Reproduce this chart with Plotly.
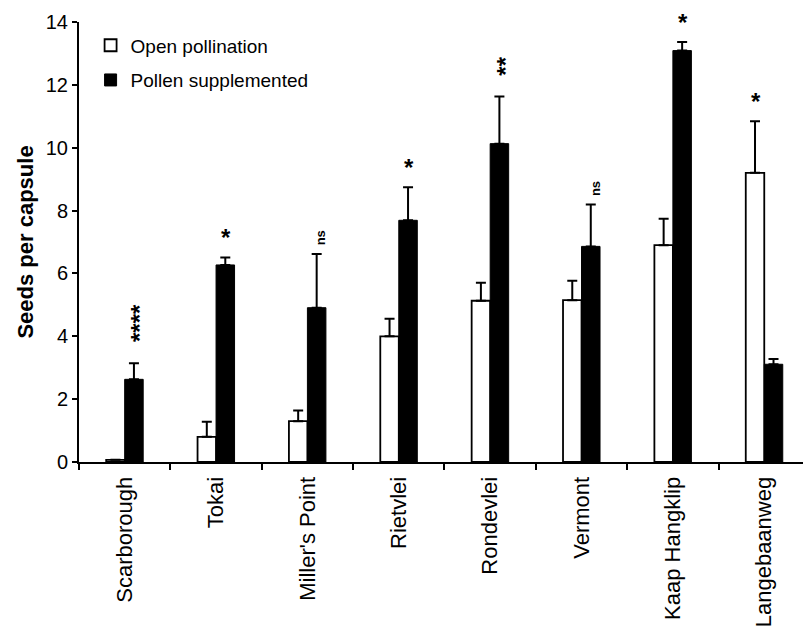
import plotly.graph_objects as go

sites = ["Scarborough", "Tokai", "Miller's Point", "Rietvlei", "Rondevlei",
         "Vermont", "Kaap Hangklip", "Langebaanweg"]
open_mean = [0.07, 0.80, 1.30, 4.00, 5.13, 5.15, 6.90, 9.20]
open_se = [0.0, 0.48, 0.34, 0.56, 0.57, 0.62, 0.84, 1.64]
supp_mean = [2.63, 6.27, 4.91, 7.69, 10.13, 6.86, 13.09, 3.11]
supp_se = [0.51, 0.24, 1.71, 1.05, 1.50, 1.33, 0.27, 0.17]
sig_text = ["****", "*", "ns", "*", "**", "ns", "*", "*"]
sig_series = ["supp", "supp", "supp", "supp", "supp", "supp", "supp", "open"]

FONT = "Liberation Sans, Arial, sans-serif"

fig = go.Figure()
fig.add_trace(go.Bar(
    x=sites, y=open_mean, name="Open pollination", legendgroup="a",
    marker=dict(color="white", line=dict(color="black", width=1.8)),
    error_y=dict(type="data", array=open_se, arrayminus=[0] * len(sites),
                 symmetric=False, color="black", thickness=2, width=5),
))
fig.add_trace(go.Bar(
    x=sites, y=supp_mean, name="Pollen supplemented", legendgroup="b",
    marker=dict(color="black", line=dict(color="black", width=1)),
    error_y=dict(type="data", array=supp_se, arrayminus=[0] * len(sites),
                 symmetric=False, color="black", thickness=2, width=5),
))

annotations = []
for i, s in enumerate(sites):
    if sig_series[i] == "supp":
        top = supp_mean[i] + supp_se[i]
        xs = 9
    else:
        top = open_mean[i] + open_se[i]
        xs = -9
    txt = sig_text[i]
    if txt == "ns":
        size, shift_y, extra_x, angle = 13, 16, 5, -90
    elif len(txt) > 1:
        size, shift_y, extra_x, angle = 24, 20 + 10 * len(txt) / 2, 6, -90
    else:
        size, shift_y, extra_x, angle = 24, 20, 1, 0
    annotations.append(dict(
        x=s, y=top, xref="x", yref="y", text="<b>" + txt + "</b>",
        showarrow=False, textangle=angle,
        xshift=xs + extra_x, yshift=shift_y,
        xanchor="center", yanchor="middle",
        font=dict(family=FONT, size=size, color="black"),
    ))

fig.update_layout(
    width=803, height=633,
    margin=dict(l=79, r=0, t=22, b=171),
    paper_bgcolor="white", plot_bgcolor="white",
    barmode="group", bargap=0.595, bargroupgap=0,
    font=dict(family=FONT, size=18, color="black"),
    showlegend=True,
    legend=dict(x=0.016, y=0.99, xanchor="left", yanchor="top",
                font=dict(family=FONT, size=19, color="black"),
                tracegroupgap=7, bgcolor="rgba(0,0,0,0)", traceorder="grouped"),
    annotations=annotations,
    xaxis=dict(
        range=[-0.5, 7.424], tickson="boundaries", ticks="outside", ticklen=6,
        tickwidth=1.5, tickcolor="black", showline=True, linecolor="black",
        linewidth=2, tickangle=-90, showgrid=False, ticklabelstandoff=4,
        tickfont=dict(family=FONT, size=22, color="black"),
    ),
    yaxis=dict(
        range=[0, 14], dtick=2, ticks="outside", ticklen=5, tickwidth=1.5,
        tickcolor="black", showline=True, linecolor="black", linewidth=2,
        showgrid=False, zeroline=False,
        tickfont=dict(family=FONT, size=20, color="black"),
        title=dict(text="<b>Seeds per capsule</b>", standoff=6,
                   font=dict(family=FONT, size=22, color="black")),
    ),
)

fig.write_html("out.html")
